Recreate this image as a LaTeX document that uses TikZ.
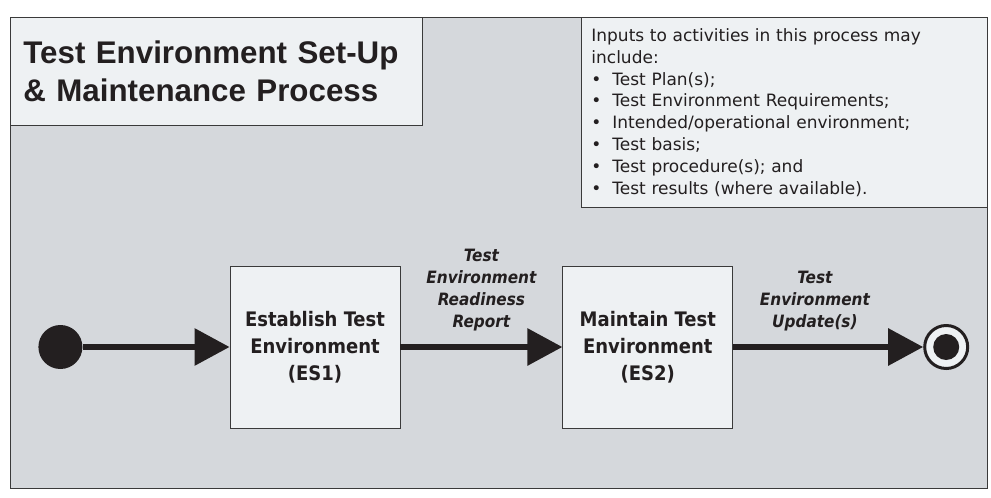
\documentclass[tikz,border=0pt]{standalone}
\usepackage{fontspec}
\setmainfont{DejaVu Sans Condensed}
\newfontfamily\titlefont{Liberation Sans}
\newfontfamily\notefont{DejaVu Sans}
\usetikzlibrary{positioning, arrows.meta}

\definecolor{panelgray}{HTML}{D5D8DC}
\definecolor{boxfill}{HTML}{EEF1F3}
\definecolor{inkblack}{HTML}{231F20}
\definecolor{edgegray}{HTML}{3A3A3A}

\begin{document}
\begin{tikzpicture}[
    x=1pt, y=-1pt,
    activity/.style={rectangle, draw=edgegray, fill=boxfill, thick, minimum width=170pt, minimum height=162pt, align=center, text=inkblack, font=\bfseries\fontsize{20}{27}\selectfont},
    notebox/.style={rectangle, draw=edgegray, fill=boxfill, thick, anchor=north west, align=left, text=inkblack},
    flow/.style={draw=inkblack, line width=6pt, -{Triangle[length=35pt, width=36pt]}},
    flowlabel/.style={align=center, text=inkblack, font=\bfseries\itshape\fontsize{17}{22}\selectfont},
    startdot/.style={circle, fill=inkblack, minimum size=44pt, inner sep=0pt},
    endring/.style={circle, draw=inkblack, line width=3pt, fill=boxfill, minimum size=43pt, inner sep=0pt},
    enddot/.style={circle, fill=inkblack, minimum size=26pt, inner sep=0pt}
]
\useasboundingbox (0,0) rectangle (991,498);

% Background panel
\draw[draw=edgegray, fill=panelgray, thick] (10,17) rectangle (987,488);

% Title
\node[notebox, minimum width=412pt, minimum height=108pt, text width=386pt, inner xsep=13pt,
      font=\titlefont\bfseries\fontsize{31.3}{38}\selectfont] (title) at (10,17)
    {Test Environment Set-Up\\\& Maintenance Process};

% Inputs
\node[notebox, minimum width=406pt, minimum height=190pt, text width=386pt, inner xsep=10pt,
      font=\notefont\fontsize{17}{21.8}\selectfont] (inputs) at (581,17)
    {Inputs to activities in this process may\\
     include:\\
     \makebox[21pt][l]{\textbullet}Test Plan(s);\\
     \makebox[21pt][l]{\textbullet}Test Environment Requirements;\\
     \makebox[21pt][l]{\textbullet}Intended/operational environment;\\
     \makebox[21pt][l]{\textbullet}Test basis;\\
     \makebox[21pt][l]{\textbullet}Test procedure(s); and\\
     \makebox[21pt][l]{\textbullet}Test results (where available).};

% Activities
\node[activity] (es1) at (315,347) {Establish Test\\Environment\\(ES1)};
\node[activity, right=162pt of es1] (es2) {Maintain Test\\Environment\\(ES2)};

% Initial and final states
\node[startdot, left=147pt of es1] (start) {};
\node[endring, right=190pt of es2] (finish) {};
\node[enddot] (finishcore) at (finish) {};

% Flows
\draw[flow] (start) -- (es1);
\draw[flow] (es1) -- node[flowlabel, above=10pt] {Test\\Environment\\Readiness\\Report} (es2);
\draw[flow] (es2) -- node[flowlabel, above=10pt, pos=0.43] {Test\\Environment\\Update(s)} (finish);

\end{tikzpicture}
\end{document}
